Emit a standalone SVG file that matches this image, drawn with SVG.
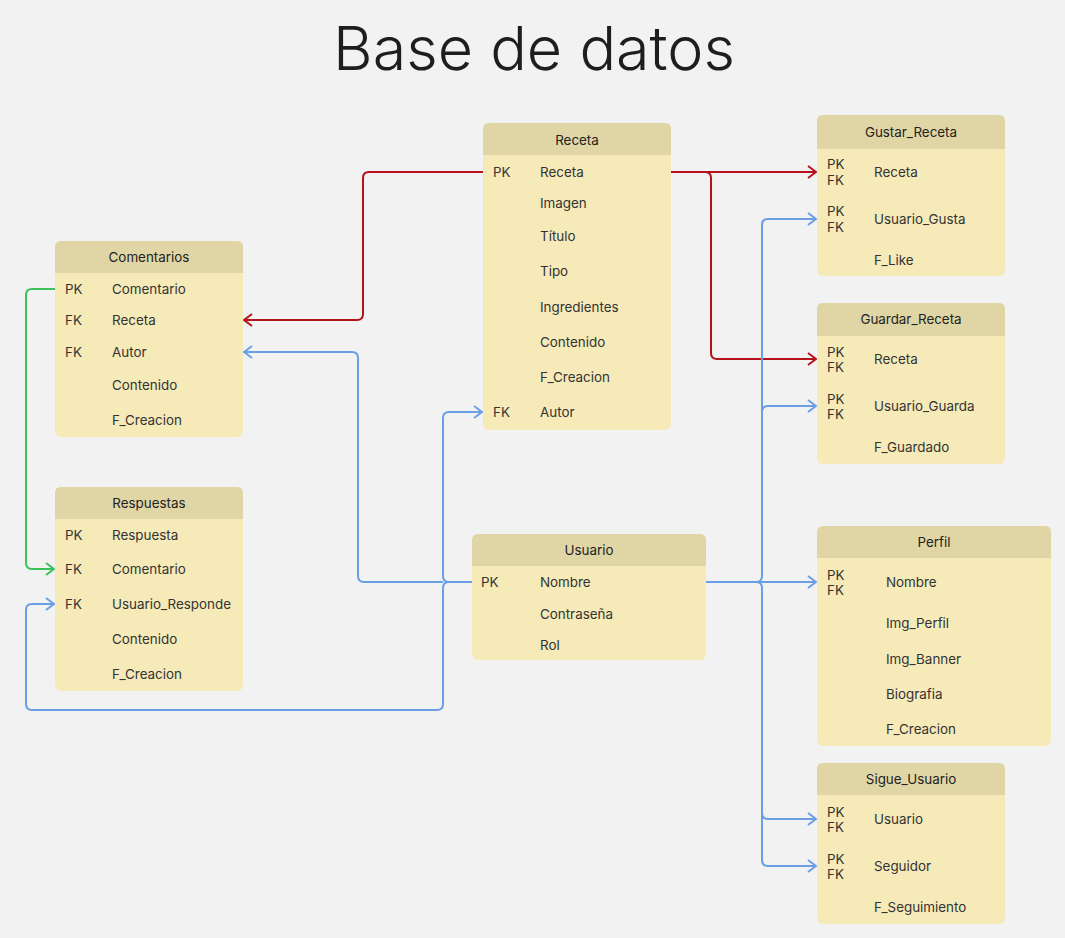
<svg xmlns="http://www.w3.org/2000/svg" width="1065" height="938" viewBox="0 0 1065 938">
<style>
.hd{fill:#e0d6a5}
.bd{fill:#f6eab9}
.t{font-family:Inter,"Noto Sans",sans-serif;font-size:13.4px;fill:#333}
.h{font-family:Inter,"Noto Sans",sans-serif;font-size:13.4px;fill:#222;text-anchor:middle;font-weight:400}
.c{fill:none;stroke-width:2;stroke-linejoin:round}
.r{stroke:#b5121b}
.b{stroke:#6a9fe6}
.g{stroke:#3cc25b}
</style>
<defs>
<marker id="ar" viewBox="0 0 10 14" refX="9" refY="7" markerWidth="10" markerHeight="14" markerUnits="userSpaceOnUse" orient="auto"><path d="M1,1 L9,7 L1,13" fill="none" stroke="#b5121b" stroke-width="2"/></marker>
<marker id="ab" viewBox="0 0 10 14" refX="9" refY="7" markerWidth="10" markerHeight="14" markerUnits="userSpaceOnUse" orient="auto"><path d="M1,1 L9,7 L1,13" fill="none" stroke="#6a9fe6" stroke-width="2"/></marker>
<marker id="ag" viewBox="0 0 10 14" refX="9" refY="7" markerWidth="10" markerHeight="14" markerUnits="userSpaceOnUse" orient="auto"><path d="M1,1 L9,7 L1,13" fill="none" stroke="#3cc25b" stroke-width="2"/></marker>
</defs>
<rect width="1065" height="938" fill="#f2f2f2"/>
<text x="534" y="70" text-anchor="middle" font-family="Inter,'Noto Sans',sans-serif" font-size="61" font-weight="300" fill="#1e1e1e">Base de datos</text>

<g id="connectors">
<path class="c r" d="M483,172 H369 Q363,172 363,178 V314 Q363,320 357,320 H244" marker-end="url(#ar)"/>
<path class="c r" d="M671,172 H816" marker-end="url(#ar)"/>
<path class="c r" d="M705,172 Q711,172 711,178 V353 Q711,359 717,359 H816" marker-end="url(#ar)"/>
<path class="c g" d="M55,289 H32 Q26,289 26,295 V563 Q26,569 32,569 H54" marker-end="url(#ag)"/>
<path class="c b" d="M472,582 H449 Q443,582 443,576 V418 Q443,412 449,412 H482" marker-end="url(#ab)"/>
<path class="c b" d="M443,582 H364 Q358,582 358,576 V358 Q358,352 352,352 H244" marker-end="url(#ab)"/>
<path class="c b" d="M449,582 Q443,582 443,588 V704 Q443,710 437,710 H32 Q26,710 26,704 V610 Q26,604 32,604 H54" marker-end="url(#ab)"/>
<path class="c b" d="M706,582 H816" marker-end="url(#ab)"/>
<path class="c b" d="M756,582 Q762,582 762,576 V225 Q762,219 768,219 H816" marker-end="url(#ab)"/>
<path class="c b" d="M762,412 Q762,406 768,406 H816" marker-end="url(#ab)"/>
<path class="c b" d="M756,582 Q762,582 762,588 V860 Q762,866 768,866 H816" marker-end="url(#ab)"/>
<path class="c b" d="M762,813 Q762,819 768,819 H816" marker-end="url(#ab)"/>
</g>

<g id="comentarios">
<rect class="bd" x="55" y="241" width="188" height="196" rx="6"/>
<path class="hd" d="M61,241 H237 Q243,241 243,247 V273 H55 V247 Q55,241 61,241 Z"/>
<text class="h" x="149" y="262">Comentarios</text>
<text class="t" x="65" y="294">PK</text><text class="t" x="112" y="294">Comentario</text>
<text class="t" x="65" y="325">FK</text><text class="t" x="112" y="325">Receta</text>
<text class="t" x="65" y="357">FK</text><text class="t" x="112" y="357">Autor</text>
<text class="t" x="112" y="390">Contenido</text>
<text class="t" x="112" y="425">F_Creacion</text>
</g>

<g id="respuestas">
<rect class="bd" x="55" y="487" width="188" height="204" rx="6"/>
<path class="hd" d="M61,487 H237 Q243,487 243,493 V519 H55 V493 Q55,487 61,487 Z"/>
<text class="h" x="149" y="508">Respuestas</text>
<text class="t" x="65" y="540">PK</text><text class="t" x="112" y="540">Respuesta</text>
<text class="t" x="65" y="574">FK</text><text class="t" x="112" y="574">Comentario</text>
<text class="t" x="65" y="609">FK</text><text class="t" x="112" y="609">Usuario_Responde</text>
<text class="t" x="112" y="644">Contenido</text>
<text class="t" x="112" y="679">F_Creacion</text>
</g>

<g id="receta">
<rect class="bd" x="483" y="123" width="188" height="307" rx="6"/>
<path class="hd" d="M489,123 H665 Q671,123 671,129 V155 H483 V129 Q483,123 489,123 Z"/>
<text class="h" x="577" y="145">Receta</text>
<text class="t" x="493" y="177">PK</text><text class="t" x="540" y="177">Receta</text>
<text class="t" x="540" y="208">Imagen</text>
<text class="t" x="540" y="241">Título</text>
<text class="t" x="540" y="276">Tipo</text>
<text class="t" x="540" y="312">Ingredientes</text>
<text class="t" x="540" y="347">Contenido</text>
<text class="t" x="540" y="382">F_Creacion</text>
<text class="t" x="493" y="417">FK</text><text class="t" x="540" y="417">Autor</text>
</g>

<g id="usuario">
<rect class="bd" x="472" y="534" width="234" height="126" rx="6"/>
<path class="hd" d="M478,534 H700 Q706,534 706,540 V566 H472 V540 Q472,534 478,534 Z"/>
<text class="h" x="589" y="555">Usuario</text>
<text class="t" x="481" y="587">PK</text><text class="t" x="540" y="587">Nombre</text>
<text class="t" x="540" y="619">Contraseña</text>
<text class="t" x="540" y="650">Rol</text>
</g>

<g id="gustar_receta">
<rect class="bd" x="817" y="115" width="188" height="161" rx="6"/>
<path class="hd" d="M823,115 H999 Q1005,115 1005,121 V149 H817 V121 Q817,115 823,115 Z"/>
<text class="h" x="911" y="137">Gustar_Receta</text>
<text class="t" x="827" y="169">PK</text><text class="t" x="827" y="185">FK</text><text class="t" x="874" y="177">Receta</text>
<text class="t" x="827" y="216">PK</text><text class="t" x="827" y="232">FK</text><text class="t" x="874" y="224">Usuario_Gusta</text>
<text class="t" x="874" y="265">F_Like</text>
</g>

<g id="guardar_receta">
<rect class="bd" x="817" y="303" width="188" height="161" rx="6"/>
<path class="hd" d="M823,303 H999 Q1005,303 1005,309 V336 H817 V309 Q817,303 823,303 Z"/>
<text class="h" x="911" y="324">Guardar_Receta</text>
<text class="t" x="827" y="357">PK</text><text class="t" x="827" y="372">FK</text><text class="t" x="874" y="364">Receta</text>
<text class="t" x="827" y="404">PK</text><text class="t" x="827" y="419">FK</text><text class="t" x="874" y="411">Usuario_Guarda</text>
<text class="t" x="874" y="452">F_Guardado</text>
</g>

<g id="perfil">
<rect class="bd" x="817" y="526" width="234" height="220" rx="6"/>
<path class="hd" d="M823,526 H1045 Q1051,526 1051,532 V558 H817 V532 Q817,526 823,526 Z"/>
<text class="h" x="934" y="547">Perfil</text>
<text class="t" x="827" y="580">PK</text><text class="t" x="827" y="595">FK</text><text class="t" x="886" y="587">Nombre</text>
<text class="t" x="886" y="628">Img_Perfil</text>
<text class="t" x="886" y="664">Img_Banner</text>
<text class="t" x="886" y="699">Biografia</text>
<text class="t" x="886" y="734">F_Creacion</text>
</g>

<g id="sigue_usuario">
<rect class="bd" x="817" y="763" width="188" height="161" rx="6"/>
<path class="hd" d="M823,763 H999 Q1005,763 1005,769 V795 H817 V769 Q817,763 823,763 Z"/>
<text class="h" x="911" y="784">Sigue_Usuario</text>
<text class="t" x="827" y="817">PK</text><text class="t" x="827" y="832">FK</text><text class="t" x="874" y="824">Usuario</text>
<text class="t" x="827" y="864">PK</text><text class="t" x="827" y="879">FK</text><text class="t" x="874" y="871">Seguidor</text>
<text class="t" x="874" y="912">F_Seguimiento</text>
</g>
</svg>
